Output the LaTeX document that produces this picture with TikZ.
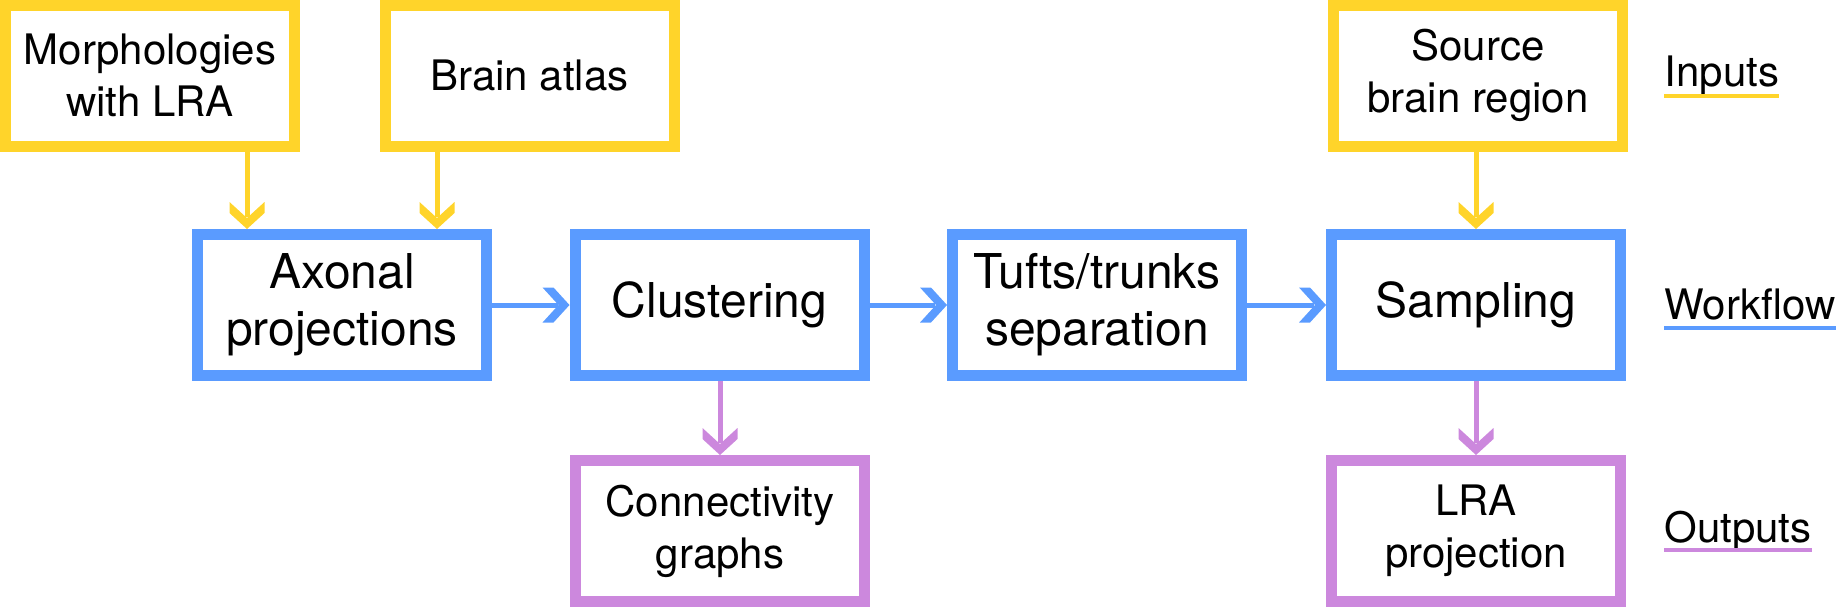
\documentclass[tikz,border=0pt]{standalone}
\usepackage{fontspec}
\setmainfont{TeX Gyre Heros}
\usetikzlibrary{arrows.meta}
\definecolor{inyellow}{HTML}{FFD42A}
\definecolor{wfblue}{HTML}{5A9BFF}
\definecolor{outpurple}{HTML}{CC88DD}
\pgfdeclarearrow{
  name = Chev,
  setup code = {
    \pgfarrowssettipend{0pt}
    \pgfarrowssetlineend{-6pt}
    \pgfarrowssetbackend{-13.5pt}
    \pgfarrowshullpoint{0pt}{0pt}
    \pgfarrowshullpoint{-13.5pt}{8.75pt}
    \pgfarrowshullpoint{-13.5pt}{-8.75pt}
  },
  drawing code = {
    \pgfpathmoveto{\pgfpoint{0pt}{0pt}}
    \pgfpathlineto{\pgfpoint{-8pt}{8.75pt}}
    \pgfpathlineto{\pgfpoint{-13.5pt}{8.75pt}}
    \pgfpathlineto{\pgfpoint{-5.5pt}{0pt}}
    \pgfpathlineto{\pgfpoint{-13.5pt}{-8.75pt}}
    \pgfpathlineto{\pgfpoint{-8pt}{-8.75pt}}
    \pgfpathclose
    \pgfusepathqfill
  }
}
\tikzset{
  boxbase/.style={draw, line width=5.5pt, fill=white, minimum width=144.5pt,
    minimum height=70.5pt, align=center, inner sep=0pt, text=black},
  inbox/.style={boxbase, draw=inyellow, font=\fontsize{21}{26}\selectfont},
  wfbox/.style={boxbase, draw=wfblue, font=\fontsize{24}{28.5}\selectfont},
  outbox/.style={boxbase, draw=outpurple, font=\fontsize{21}{26}\selectfont},
  conn/.style={line width=2.5pt, -Chev},
  inarrow/.style={conn, color=inyellow},
  wfarrow/.style={conn, color=wfblue},
  outarrow/.style={conn, color=outpurple},
  legend/.style={anchor=base west, inner sep=0pt, font=\fontsize{21}{26}\selectfont},
  uline/.style={line width=2pt}
}
\begin{document}
\begin{tikzpicture}[x=0.5pt,y=-0.5pt]
\useasboundingbox (0,0) rectangle (1838,607);
% inputs
\node[inbox] (morph) at (150,75.5) {Morphologies\\with LRA};
\node[inbox] (atlas) at (529.5,75.5) {Brain atlas};
\node[inbox] (source) at (1478,75.5) {Source\\brain region};
% workflow
\node[wfbox] (axonal) at (342,305) {Axonal\\projections};
\node[wfbox] (clust) at (719.5,305) {Clustering};
\node[wfbox] (tufts) at (1097,305) {Tufts/trunks\\separation};
\node[wfbox] (sampl) at (1476,305) {Sampling};
% outputs
\node[outbox] (conng) at (720,531) {Connectivity\\graphs};
\node[outbox] (lra) at (1476,531) {LRA\\projection};
% connectors
\coordinate (a1) at (247,0);
\coordinate (a2) at (437,0);
\coordinate (a3) at (1476,0);
\coordinate (a4) at (720,0);
\draw[inarrow] (morph.south -| a1) -- (axonal.north -| a1);
\draw[inarrow] (atlas.south -| a2) -- (axonal.north -| a2);
\draw[inarrow] (source.south -| a3) -- (sampl.north -| a3);
\draw[wfarrow] (axonal.east) -- (clust.west);
\draw[wfarrow] (clust.east) -- (tufts.west);
\draw[wfarrow] (tufts.east) -- (sampl.west);
\draw[outarrow] (clust.south -| a4) -- (conng.north -| a4);
\draw[outarrow] (sampl.south) -- (lra.north);
% legend
\node[legend] (linp) at (1664,86) {Inputs};
\node[legend] (lwf) at (1664,319) {Workflow};
\node[legend] (lout) at (1664,542) {Outputs};
\draw[uline, inyellow] ([yshift=-5pt]linp.base west) -- ([yshift=-5pt]linp.base east);
\draw[uline, wfblue] ([yshift=-4.5pt]lwf.base west) -- ([yshift=-4.5pt]lwf.base east);
\draw[uline, outpurple] ([yshift=-4pt]lout.base west) -- ([yshift=-4pt]lout.base east);
\end{tikzpicture}
\end{document}
